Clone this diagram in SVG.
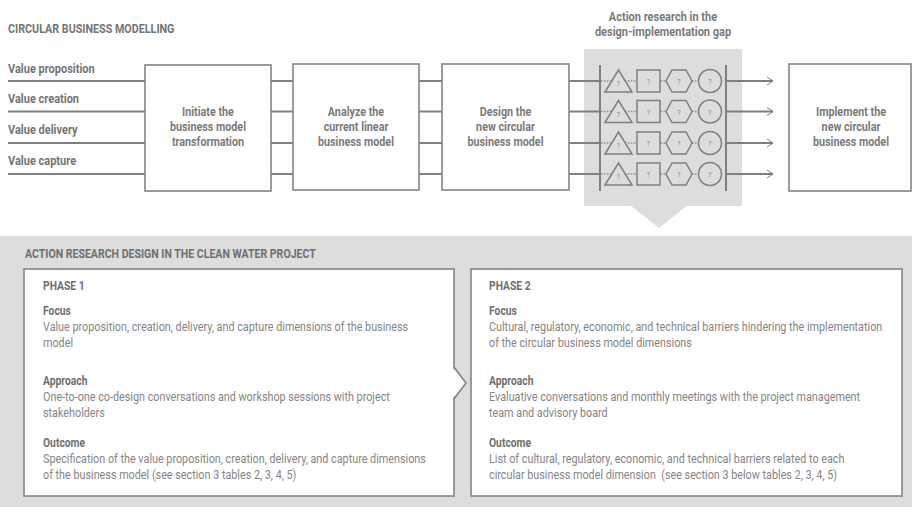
<svg xmlns="http://www.w3.org/2000/svg" xmlns:xlink="http://www.w3.org/1999/xlink" width="912" height="507" viewBox="0 0 912 507">
<style>
.ln{stroke:#7f7f7f;stroke-width:2;fill:none}
.box{fill:#fff;stroke:#848484;stroke-width:1.6}
.sh{fill:none;stroke:#7f7f7f;stroke-width:1.5}
.dot{stroke:#8a8a8a;stroke-width:1.5;stroke-dasharray:1.5 1.5;fill:none}
.gray{fill:#dcdddc}
.h{font-family:Roboto,"Liberation Sans",sans-serif;font-weight:bold;font-size:12.5px;fill:#747474}
.bl{font-family:Roboto,"Liberation Sans",sans-serif;font-weight:bold;font-size:12.5px;fill:#7a7a7a;text-anchor:middle}
.hs{font-family:Roboto,"Liberation Sans",sans-serif;font-weight:bold;font-size:12px;fill:#6f6f6f}
.p{font-family:Roboto,"Liberation Sans",sans-serif;font-size:12px;fill:#858585}
.q{font-family:Roboto,"Liberation Sans",sans-serif;font-size:7px;fill:#8a8a8a;text-anchor:middle}
</style>
<defs>
<marker id="arr" markerUnits="userSpaceOnUse" markerWidth="10" markerHeight="10" refX="7" refY="5" orient="auto">
<path d="M1,1 L7,5 L1,9" fill="none" stroke="#7f7f7f" stroke-width="1"/>
</marker>
<g id="row">
<path class="dot" d="M601,0 H612 M625,0 H637 M660.5,0 H666 M692,0 H698"/>
<polygon class="sh" points="605,11 618.5,-11 632,11"/>
<rect class="sh" x="637" y="-11" width="23" height="22"/>
<polygon class="sh" points="666,0 672,-11 686,-11 692,0 686,11 672,11"/>
<circle class="sh" cx="710" cy="0" r="11.5"/>
<text class="q" x="618.5" y="5">?</text>
<text class="q" x="648.5" y="3">?</text>
<text class="q" x="679" y="3">?</text>
<text class="q" x="710" y="3">?</text>
</g>
</defs>

<g id="title">
<g transform="translate(8,0) scale(0.86,1)"><text class="h" x="0" y="33">CIRCULAR BUSINESS MODELLING</text></g>
</g>

<g id="labels">
<g transform="translate(8,0) scale(0.88,1)">
<text class="h" x="0" y="73.5">Value proposition</text>
<text class="h" x="0" y="103.5">Value creation</text>
<text class="h" x="0" y="134.5">Value delivery</text>
<text class="h" x="0" y="165.5">Value capture</text>
</g>
</g>

<g id="gap">
<rect class="gray" x="584" y="49" width="158" height="157"/>
<polygon class="gray" points="630,205 688,205 659,228"/>
<g transform="translate(663,0) scale(0.88,1)">
<text class="bl" x="0" y="21.5">Action research in the</text>
<text class="bl" x="0" y="36">design-implementation gap</text>
</g>
<path class="ln" d="M600,65 V191 M726,65 V191"/>
<use xlink:href="#row" href="#row" y="81"/>
<use xlink:href="#row" href="#row" y="111.5"/>
<use xlink:href="#row" href="#row" y="143"/>
<use xlink:href="#row" href="#row" y="174"/>
</g>

<g id="connectors">
<path class="ln" d="M8,81 H145 M8,111.5 H145 M8,143 H145 M8,174 H145"/>
<path class="ln" d="M271,81 H293 M271,111.5 H293 M271,143 H293 M271,174 H293"/>
<path class="ln" d="M419,81 H442 M419,111.5 H442 M419,143 H442 M419,174 H442"/>
<path class="ln" d="M569,81 H600 M569,111.5 H600 M569,143 H600 M569,174 H600"/>
<path class="ln" d="M726,81 H773" marker-end="url(#arr)"/>
<path class="ln" d="M726,111.5 H773" marker-end="url(#arr)"/>
<path class="ln" d="M726,143 H773" marker-end="url(#arr)"/>
<path class="ln" d="M726,174 H773" marker-end="url(#arr)"/>
</g>

<g id="initiate">
<rect class="box" x="145" y="65" width="126" height="126"/>
<g transform="translate(208,0) scale(0.86,1)">
<text class="bl" x="0" y="116">Initiate the</text>
<text class="bl" x="0" y="131.5">business model</text>
<text class="bl" x="0" y="146.5">transformation</text>
</g>
</g>

<g id="analyze">
<rect class="box" x="293" y="64" width="126" height="126"/>
<g transform="translate(356,0) scale(0.86,1)">
<text class="bl" x="0" y="116">Analyze the</text>
<text class="bl" x="0" y="131.5">current linear</text>
<text class="bl" x="0" y="146.5">business model</text>
</g>
</g>

<g id="design">
<rect class="box" x="442" y="64" width="127" height="126"/>
<g transform="translate(505.5,0) scale(0.86,1)">
<text class="bl" x="0" y="116">Design the</text>
<text class="bl" x="0" y="131.5">new circular</text>
<text class="bl" x="0" y="146.5">business model</text>
</g>
</g>

<g id="implement">
<rect class="box" x="789" y="64" width="122" height="127"/>
<g transform="translate(851,0) scale(0.86,1)">
<text class="bl" x="0" y="116">Implement the</text>
<text class="bl" x="0" y="131.5">new circular</text>
<text class="bl" x="0" y="146.5">business model</text>
</g>
</g>

<g id="clean-water">
<rect class="gray" x="0" y="236" width="912" height="271"/>
<g transform="translate(25,0) scale(0.88,1)">
<text class="hs" x="0" y="258">ACTION RESEARCH DESIGN IN THE CLEAN WATER PROJECT</text>
</g>
</g>

<g id="phase1">
<rect class="box" x="24" y="269" width="430" height="227"/>
<polygon points="452,367 466,383 452,399" fill="#fff"/>
<polyline points="454,367 466,383 454,399" fill="none" stroke="#848484" stroke-width="1.6"/>
<g transform="translate(43,0) scale(0.86,1)">
<text class="hs" x="0" y="290">PHASE 1</text>
<text class="hs" x="0" y="315">Focus</text>
</g>
<g transform="translate(43,0) scale(0.9,1)">
<text class="p" x="0" y="331">Value proposition, creation, delivery, and capture dimensions of the business</text>
<text class="p" x="0" y="347">model</text>
</g>
<g transform="translate(43,0) scale(0.86,1)"><text class="hs" x="0" y="385">Approach</text></g>
<g transform="translate(43,0) scale(0.9,1)">
<text class="p" x="0" y="401">One-to-one co-design conversations and workshop sessions with project</text>
<text class="p" x="0" y="417">stakeholders</text>
</g>
<g transform="translate(43,0) scale(0.86,1)"><text class="hs" x="0" y="447">Outcome</text></g>
<g transform="translate(43,0) scale(0.9,1)">
<text class="p" x="0" y="463">Specification of the value proposition, creation, delivery, and capture dimensions</text>
<text class="p" x="0" y="479">of the business model (see section 3 tables 2, 3, 4, 5)</text>
</g>
</g>

<g id="phase2">
<rect class="box" x="471" y="269" width="431" height="227"/>
<g transform="translate(489,0) scale(0.86,1)">
<text class="hs" x="0" y="290">PHASE 2</text>
<text class="hs" x="0" y="315">Focus</text>
</g>
<g transform="translate(489,0) scale(0.9,1)">
<text class="p" x="0" y="331">Cultural, regulatory, economic, and technical barriers hindering the implementation</text>
<text class="p" x="0" y="347">of the circular business model dimensions</text>
</g>
<g transform="translate(489,0) scale(0.86,1)"><text class="hs" x="0" y="385">Approach</text></g>
<g transform="translate(489,0) scale(0.9,1)">
<text class="p" x="0" y="401">Evaluative conversations and monthly meetings with the project management</text>
<text class="p" x="0" y="417">team and advisory board</text>
</g>
<g transform="translate(489,0) scale(0.86,1)"><text class="hs" x="0" y="447">Outcome</text></g>
<g transform="translate(489,0) scale(0.9,1)">
<text class="p" x="0" y="463">List of cultural, regulatory, economic, and technical barriers related to each</text>
<text class="p" x="0" y="479" style="white-space:pre">circular business model dimension  (see section 3 below tables 2, 3, 4, 5)</text>
</g>
</g>
</svg>
